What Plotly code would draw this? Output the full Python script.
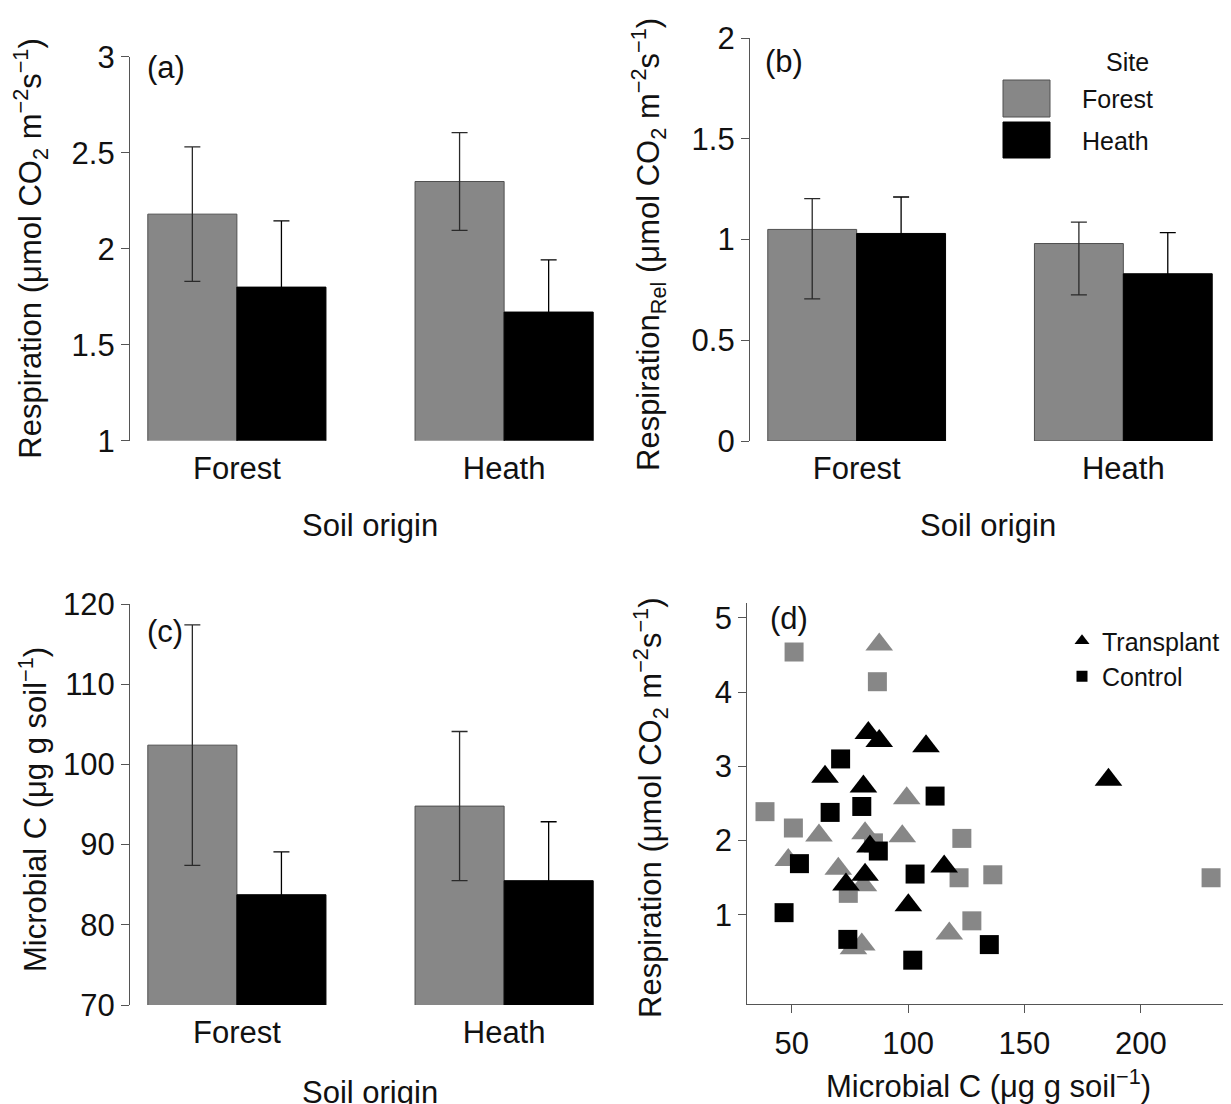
import plotly.graph_objects as go

# ---------------- data ----------------
soil_origin = ["Forest", "Heath"]

# (a) Respiration
resp_forest_site = [2.18, 2.35]
resp_forest_err = [0.35, 0.255]
resp_heath_site = [1.80, 1.67]
resp_heath_err = [0.345, 0.272]

# (b) Relative respiration (asymmetric errors)
rel_forest_site = [1.05, 0.98]
rel_forest_up = [0.153, 0.106]
rel_forest_down = [0.345, 0.255]
rel_heath_site = [1.03, 0.83]
rel_heath_up = [0.181, 0.204]
rel_heath_down = [0.181, 0.204]

# (c) Microbial C
mic_forest_site = [102.4, 94.8]
mic_forest_err = [15.0, 9.3]
mic_heath_site = [83.75, 85.5]
mic_heath_err = [5.35, 7.35]

# (d) scatter: microbial C vs respiration
forest_transplant_x = [87.6, 99.4, 61.7, 81.5, 97.5, 48.5, 70.0, 80.8, 80.1, 76.5, 117.7]
forest_transplant_y = [4.64, 2.57, 2.07, 2.10, 2.06, 1.74, 1.62, 1.40, 0.60, 0.55, 0.75]
forest_control_x = [51.0, 86.8, 38.5, 50.7, 123.1, 121.9, 136.4, 127.4, 74.3, 230.2, 85.1]
forest_control_y = [4.54, 4.14, 2.39, 2.17, 2.03, 1.50, 1.54, 0.92, 1.29, 1.50, 1.97]
heath_transplant_x = [82.9, 87.6, 107.7, 64.3, 80.8, 83.6, 81.5, 73.3, 100.1, 115.5, 186.1]
heath_transplant_y = [3.45, 3.34, 3.27, 2.86, 2.73, 1.92, 1.54, 1.41, 1.13, 1.65, 2.82]
heath_control_x = [71.0, 66.5, 80.1, 111.6, 87.2, 53.3, 103.0, 46.7, 74.1, 102.0, 134.9]
heath_control_y = [3.10, 2.38, 2.46, 2.60, 1.86, 1.69, 1.55, 1.03, 0.67, 0.39, 0.60]

# ---------------- style ----------------
OFF = 8                      # page body margin of the html page
W, H = 1231 - OFF, 1104 - OFF
FONT = "Liberation Sans, Arial, Helvetica, sans-serif"
FS = 31
LFS = 25
GRAY = "#878787"
BLACK = "#000000"
AXC = "#555555"
ERRC = "#2a2a2a"
TXT = "#111111"


def px(x):
    return (x - OFF) / W


def py(y):
    return 1 - (y - OFF) / H


fig = go.Figure()


def add_bars(xa, ya, forest_vals, forest_up, forest_down, heath_vals, heath_up, heath_down):
    fig.add_trace(go.Bar(
        x=soil_origin, y=forest_vals, name="Forest", offsetgroup="f",
        marker=dict(color=GRAY, line=dict(color="#505050", width=1)),
        error_y=dict(type="data", symmetric=False, array=forest_up, arrayminus=forest_down,
                     color=ERRC, thickness=1.3, width=8),
        xaxis=xa, yaxis=ya, showlegend=False))
    fig.add_trace(go.Bar(
        x=soil_origin, y=heath_vals, name="Heath", offsetgroup="h",
        marker=dict(color=BLACK, line=dict(color=BLACK, width=1)),
        error_y=dict(type="data", symmetric=False, array=heath_up, arrayminus=heath_down,
                     color=BLACK, thickness=1.3, width=8),
        xaxis=xa, yaxis=ya, showlegend=False))


add_bars("x", "y", resp_forest_site, resp_forest_err, resp_forest_err,
         resp_heath_site, resp_heath_err, resp_heath_err)
add_bars("x2", "y2", rel_forest_site, rel_forest_up, rel_forest_down,
         rel_heath_site, rel_heath_up, rel_heath_down)
add_bars("x3", "y3", mic_forest_site, mic_forest_err, mic_forest_err,
         mic_heath_site, mic_heath_err, mic_heath_err)

# scatter (d)
for xs, ys, col, sym, sz in [
    (forest_transplant_x, forest_transplant_y, GRAY, "triangle-up", 24),
    (forest_control_x, forest_control_y, GRAY, "square", 19),
    (heath_control_x, heath_control_y, BLACK, "square", 19),
    (heath_transplant_x, heath_transplant_y, BLACK, "triangle-up", 24),
]:
    fig.add_trace(go.Scatter(x=xs, y=ys, mode="markers", xaxis="x4", yaxis="y4",
                             marker=dict(color=col, symbol=sym, size=sz, line=dict(width=0)),
                             showlegend=False, cliponaxis=False))

# legend entries for (d)
fig.add_trace(go.Scatter(x=[None], y=[None], mode="markers", name="Transplant",
                         marker=dict(color=BLACK, symbol="triangle-up", size=13),
                         xaxis="x4", yaxis="y4", legend="legend"))
fig.add_trace(go.Scatter(x=[None], y=[None], mode="markers", name="Control",
                         marker=dict(color=BLACK, symbol="square", size=11),
                         xaxis="x4", yaxis="y4", legend="legend"))

bar_x = dict(type="category", range=[-0.4, 1.4], showline=False, ticks="",
             showgrid=False, zeroline=False, tickfont=dict(size=FS, color=TXT),
             ticklabelstandoff=6, automargin=False)
yax_common = dict(showline=True, linecolor=AXC, linewidth=1.2, ticks="outside", ticklen=8,
                  tickcolor=AXC, tickwidth=1.2, showgrid=False, zeroline=False,
                  tickfont=dict(size=FS, color=TXT), automargin=False)

dom_a_x = [px(130), px(611)]
dom_b_x = [px(750), px(1230)]
dom_d_x = [px(747.3), px(1229)]

fig.update_layout(
    width=W, height=H,
    margin=dict(l=0, r=0, t=0, b=0, autoexpand=False),
    paper_bgcolor="white", plot_bgcolor="white",
    font=dict(family=FONT, size=FS, color=TXT),
    barmode="group", bargap=1 / 3, bargroupgap=0,
    xaxis=dict(domain=dom_a_x, anchor="y", **bar_x),
    yaxis=dict(domain=[py(440.7), py(56.7)], anchor="x", range=[1, 3],
               tickvals=[1, 1.5, 2, 2.5, 3], ticktext=["1", "1.5", "2", "2.5", "3"], **yax_common),
    xaxis2=dict(domain=dom_b_x, anchor="y2", **bar_x),
    yaxis2=dict(domain=[py(441), py(38)], anchor="x2", range=[0, 2],
                tickvals=[0, 0.5, 1, 1.5, 2], ticktext=["0", "0.5", "1", "1.5", "2"], **yax_common),
    xaxis3=dict(domain=dom_a_x, anchor="y3", **bar_x),
    yaxis3=dict(domain=[py(1005), py(604)], anchor="x3", range=[70, 120],
                tickvals=[70, 80, 90, 100, 110, 120], **yax_common),
    xaxis4=dict(domain=dom_d_x, anchor="y4", range=[30.9, 237.9],
                tickvals=[50, 100, 150, 200], ticklabelstandoff=4, **yax_common),
    yaxis4=dict(domain=[py(1004), py(603)], anchor="x4", range=[-0.2, 5.2],
                tickvals=[1, 2, 3, 4, 5], **yax_common),
    legend=dict(x=px(1062), y=py(618), xanchor="left", yanchor="top",
                bgcolor="rgba(0,0,0,0)", font=dict(size=LFS, color=TXT),
                itemsizing="trace", tracegroupgap=0, itemwidth=30),
)

ann = []


def text(x, y, s, size=FS, xanchor="center", angle=0):
    ann.append(dict(x=px(x), y=py(y), xref="paper", yref="paper", text=s, showarrow=False,
                    xanchor=xanchor, yanchor="middle", textangle=angle,
                    font=dict(size=size, family=FONT, color=TXT)))


resp_title = "Respiration (μmol CO<sub>2</sub> m<sup>−2</sup>s<sup>−1</sup>)"
rel_title = "Respiration<sub>Rel</sub> (μmol CO<sub>2</sub> m<sup>−2</sup>s<sup>−1</sup>)"
mic_title = "Microbial C (μg g soil<sup>−1</sup>)"

text(31, 248.7, resp_title, angle=-90)
text(648, 245, rel_title, angle=-90)
text(33, 810, mic_title, angle=-90)
text(650, 808, resp_title, angle=-90)

text(370, 525, "Soil origin")
text(988, 525, "Soil origin")
text(370, 1092, "Soil origin")
text(988, 1084, "Microbial C (μg g soil<sup>−1</sup>)")

text(145, 68, "(a)", xanchor="left")
text(763, 62, "(b)", xanchor="left")
text(145, 631, "(c)", xanchor="left")
text(768, 618, "(d)", xanchor="left")

# Site legend of (b)
text(1127, 62, "Site", size=LFS)
text(1080, 99, "Forest", size=LFS, xanchor="left")
text(1080, 141, "Heath", size=LFS, xanchor="left")

shapes = [
    dict(type="rect", xref="paper", yref="paper", x0=px(1003), x1=px(1050), y0=py(117), y1=py(80),
         fillcolor=GRAY, line=dict(color="#505050", width=1)),
    dict(type="rect", xref="paper", yref="paper", x0=px(1003), x1=px(1050), y0=py(158), y1=py(122),
         fillcolor=BLACK, line=dict(color=BLACK, width=1)),
]

fig.update_layout(annotations=ann, shapes=shapes)

fig.write_html("out.html")
